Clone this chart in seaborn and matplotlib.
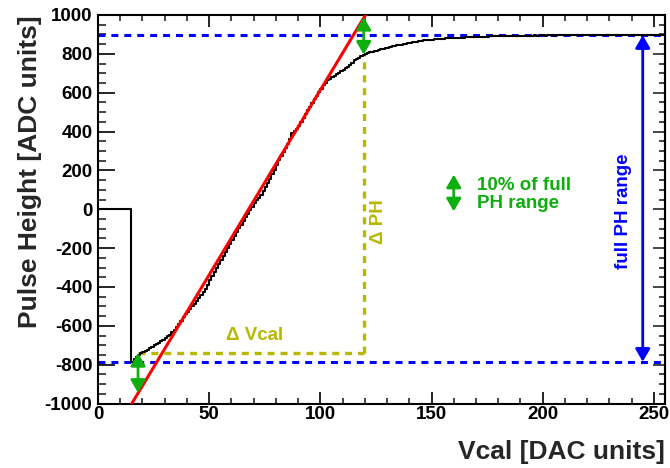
import numpy as np
import pandas as pd
import matplotlib
matplotlib.use("Agg")
import matplotlib.pyplot as plt
import seaborn as sns
from matplotlib.ticker import MultipleLocator
from matplotlib.patches import FancyArrowPatch

# ---------------- data ----------------
bin_edges_start = 0          # first bin lower edge (DAC)
pulse_height = (
    [0] * 15 +
    [-785, -772, -760, -750, -742, -735, -729, -722, -716, -709,
     -701, -694, -687, -680, -673, -665, -655, -645, -633, -620,
     -606, -590, -573, -556, -541] +
    [-528, -514, -500, -487, -472, -458, -442, -427, -409, -389,
     -366, -345, -324, -304, -283, -262, -240, -219, -198, -178,
     -158, -138, -117, -98, -79, -60, -40, -22, -4, 14,
     30, 46, 60, 74, 92, 112, 134, 156, 180, 204,
     228, 252, 274, 294, 314, 336, 362, 392, 404, 412,
     430, 450, 470, 490, 510, 528, 548, 566, 585, 603,
     621, 638, 652, 663, 672, 680, 688, 695, 703, 711,
     719, 726, 733, 741, 754, 768, 775, 781, 788, 795,
     800, 804, 808, 811, 814, 817, 820, 823, 826, 829,
     832, 835, 838, 840, 843, 846, 848, 851, 853, 855,
     857, 859, 861, 863, 865, 867, 869, 870, 871, 872,
     873, 874, 875, 876, 877, 878, 879, 880, 880, 881,
     882, 882, 883, 884, 884, 885, 885, 886, 886, 887,
     887, 888, 888, 889, 889, 889, 890, 890, 890, 891,
     891, 891, 892, 892, 892, 892, 893, 893, 893, 893,
     893, 894, 894, 893, 894, 894, 895, 894, 894, 895,
     895, 894, 895, 895, 895, 894, 895, 895, 896, 895,
     895, 895, 896, 895, 895, 896, 895, 896, 896, 895,
     896, 895, 896, 896, 895, 896, 896, 895, 896, 896,
     896, 895, 896, 896, 896, 895, 896, 896, 896, 896,
     895, 896, 896, 896, 895, 896, 896, 896, 896, 896,
     895, 896, 896, 896, 896]
)

fit_x = [15.2, 120.3]          # linear fit (red line) end points
fit_y = [-1000, 1000]

ph_max = 896                   # plateau (upper blue dashed line)
ph_min = -785                  # minimum (lower blue dashed line)

vcal_low, vcal_high = 18.0, 119.5     # Delta Vcal interval
vcal_level = -741                      # height of the Delta Vcal line

low_arrow = (18.0, -740, -945)         # x, from, to (10% arrow, low end)
high_arrow = (119.5, 796, 990)         # x, from, to (10% arrow, high end)
legend_arrow = (160.0, -11, 178)
full_arrow_x = 245.0

x_ticks = [0, 50, 100, 150, 200, 250]
y_ticks = [-1000, -800, -600, -400, -200, 0, 200, 400, 600, 800, 1000]

# ---------------- styling ----------------
sns.set_theme(style="ticks")
plt.rcParams["font.family"] = ["Liberation Sans", "DejaVu Sans"]
plt.rcParams["font.weight"] = "bold"
plt.rcParams["lines.scale_dashes"] = False

GREEN = "#0fae0f"
OLIVE = "#b8b800"
BLUE = "#0000ff"
RED = "#ff0000"
FS = 13.5

fig = plt.figure(figsize=(6.7, 4.68), dpi=100)
ax = fig.add_axes([0.1463, 0.1378, 0.8462, 0.8302])

n = len(pulse_height)
edges = np.arange(bin_edges_start, bin_edges_start + n + 1)
df = pd.DataFrame({"Vcal": edges, "PH": pulse_height + [pulse_height[-1]]})
sns.lineplot(data=df, x="Vcal", y="PH", ax=ax, color="black", lw=1.5,
             drawstyle="steps-post", estimator=None, sort=False, zorder=3)

# linear fit
fit_df = pd.DataFrame({"x": fit_x, "y": fit_y})
sns.lineplot(data=fit_df, x="x", y="y", ax=ax, color=RED, lw=2.2,
             estimator=None, sort=False, zorder=4)

# full range dashed lines
for lev in (ph_max, ph_min):
    ax.axhline(lev, color=BLUE, lw=2.2, ls=(0, (5.0, 4.3)), zorder=2)

# Delta Vcal / Delta PH dashed lines
ax.plot([vcal_low, vcal_high], [vcal_level, vcal_level], color=OLIVE,
        lw=2.4, ls=(0, (5.0, 4.3)), zorder=2)
ax.plot([vcal_high, vcal_high], [vcal_level, high_arrow[1]], color=OLIVE,
        lw=2.4, ls=(0, (5.0, 4.3)), zorder=2)


def darrow(x, y0, y1, color, lw=2.0):
    p = FancyArrowPatch((x, y0), (x, y1),
                        arrowstyle="<|-|>,head_length=0.38,head_width=0.22",
                        mutation_scale=20, color=color, lw=lw,
                        shrinkA=0, shrinkB=0, zorder=5)
    ax.add_patch(p)


darrow(*low_arrow, GREEN)
darrow(*high_arrow, GREEN)
darrow(*legend_arrow, GREEN)
darrow(full_arrow_x, ph_min, ph_max, BLUE)

ax.text(170.3, 77, "10% of full\nPH range", color=GREEN, fontsize=FS,
        fontweight="bold", ha="left", va="center", linespacing=1.05)
ax.text(70.3, -652, "\u0394 Vcal", color=OLIVE, fontsize=FS,
        fontweight="bold", ha="center", va="center")
ax.text(126.3, -65, "\u0394 PH", color=OLIVE, fontsize=FS,
        fontweight="bold", ha="center", va="center", rotation=90)
ax.text(236.3, -8, "full PH range", color=BLUE, fontsize=FS,
        fontweight="bold", ha="center", va="center", rotation=90)

# axes
ax.set_xlim(0, 255)
ax.set_ylim(-1000, 1000)
ax.set_xticks(x_ticks)
ax.set_yticks(y_ticks)
ax.xaxis.set_minor_locator(MultipleLocator(10))
ax.yaxis.set_minor_locator(MultipleLocator(50))
ax.set_xticklabels([str(t) for t in x_ticks], fontsize=FS, fontweight="bold")
ax.set_yticklabels([str(t) for t in y_ticks], fontsize=FS, fontweight="bold")
ax.tick_params(axis="x", which="major", direction="in", length=8.6, width=1.2,
               top=True, bottom=True, pad=2, colors="black")
ax.tick_params(axis="x", which="minor", direction="in", length=4.3, width=1.2,
               top=True, bottom=True)
ax.tick_params(axis="y", which="major", direction="in", length=12.2, width=1.2,
               left=True, right=False, pad=4, colors="black")
ax.tick_params(axis="y", which="minor", direction="in", length=5.8, width=1.2,
               left=True, right=False)
sec = ax.secondary_yaxis("right")
sec.set_yticks(y_ticks)
sec.yaxis.set_minor_locator(MultipleLocator(50))
sec.tick_params(axis="y", which="major", direction="in", length=8.6,
                width=1.2, labelright=False)
sec.tick_params(axis="y", which="minor", direction="in", length=4.3,
                width=1.2)
sec.spines["right"].set_linewidth(1.5)
for s in ax.spines.values():
    s.set_linewidth(1.5)
    s.set_color("black")

ax.set_xlabel("Vcal [DAC units]", fontsize=19, fontweight="bold", loc="right")
ax.set_ylabel("Pulse Height [ADC units]", fontsize=19, fontweight="bold",
              loc="top")
ax.xaxis.set_label_coords(1.0, -0.093)
ax.yaxis.set_label_coords(-0.098, 1.0)

fig.savefig("out.png", dpi=100)
